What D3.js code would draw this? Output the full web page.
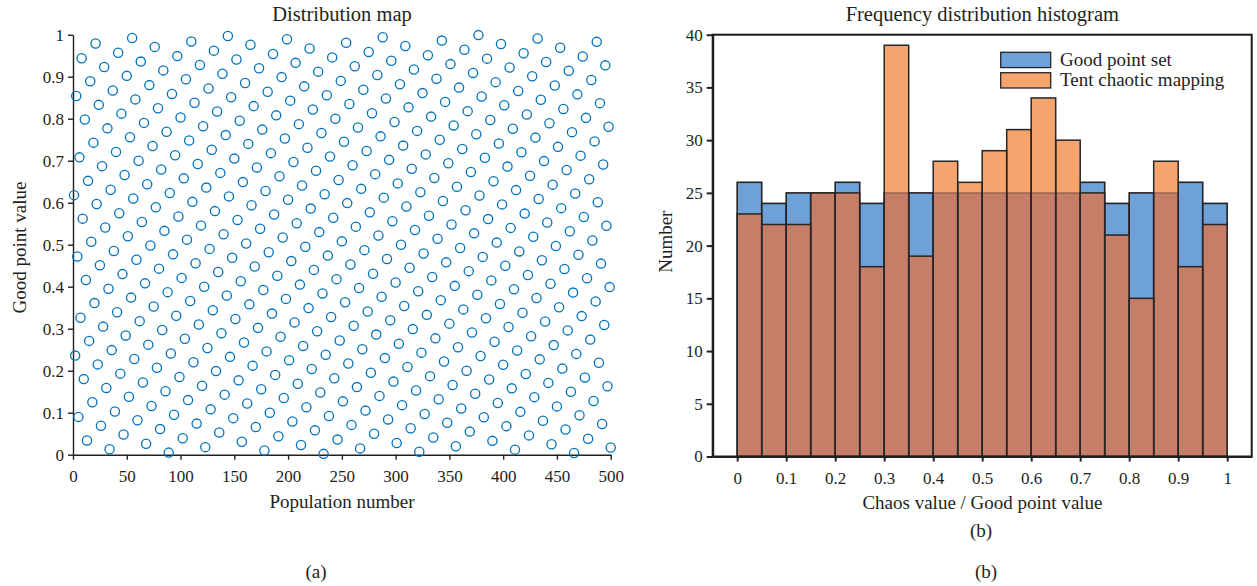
<!DOCTYPE html>
<html><head><meta charset="utf-8">
<script src="https://cdn.jsdelivr.net/npm/d3@7"></script>
<style>
body{margin:0;background:#fff}
svg{display:block}
text{font-family:"Liberation Serif","Times New Roman",serif;fill:#231f20}
</style>
</head><body>
<svg id="chart" width="1257" height="586"></svg>
<script>
// ---- Panel (a): good point set values for population numbers 1..500 ----
const goodPointValues = [
0.618,0.236,0.854,0.472,0.090,0.708,0.326,0.944,0.562,0.180,
0.798,0.416,0.034,0.652,0.271,0.889,0.507,0.125,0.743,0.361,
0.979,0.597,0.215,0.833,0.451,0.069,0.687,0.305,0.923,0.541,
0.159,0.777,0.395,0.013,0.631,0.249,0.867,0.485,0.103,0.721,
0.339,0.957,0.575,0.193,0.812,0.430,0.048,0.666,0.284,0.902,
0.520,0.138,0.756,0.374,0.992,0.610,0.228,0.846,0.464,0.082,
0.700,0.318,0.936,0.554,0.172,0.790,0.408,0.026,0.644,0.262,
0.880,0.498,0.116,0.735,0.353,0.971,0.589,0.207,0.825,0.443,
0.061,0.679,0.297,0.915,0.533,0.151,0.769,0.387,0.005,
0.623,0.241,0.859,0.477,0.095,0.713,0.331,0.949,0.567,0.185,
0.803,0.421,0.039,0.658,0.276,0.894,0.512,0.130,0.748,0.366,
0.984,0.602,0.220,0.838,0.456,0.074,0.692,0.310,0.928,0.546,
0.164,0.782,0.400,0.018,0.636,0.254,0.872,0.490,0.108,0.726,
0.344,0.962,0.580,0.199,0.817,0.435,0.053,0.671,0.289,0.907,
0.525,0.143,0.761,0.379,0.997,0.615,0.233,0.851,0.469,0.087,
0.705,0.323,0.941,0.559,0.177,0.795,0.413,0.031,0.649,0.267,
0.885,0.503,0.122,0.740,0.358,0.976,0.594,0.212,0.830,0.448,
0.066,0.684,0.302,0.920,0.538,0.156,0.774,0.392,0.010,
0.628,0.246,0.864,0.482,0.100,0.718,0.336,0.954,0.572,0.190,
0.808,0.426,0.044,0.663,0.281,0.899,0.517,0.135,0.753,0.371,
0.989,0.607,0.225,0.843,0.461,0.079,0.697,0.315,0.933,0.551,
0.169,0.787,0.405,0.023,0.641,0.259,0.877,0.495,0.113,0.731,
0.349,0.967,0.586,0.204,0.822,0.440,0.058,0.676,0.294,0.912,
0.530,0.148,0.766,0.384,0.002,0.620,0.238,0.856,0.474,0.092,
0.710,0.328,0.946,0.564,0.182,0.800,0.418,0.036,0.654,0.272,
0.890,0.508,0.127,0.745,0.363,0.981,0.599,0.217,0.835,0.453,
0.071,0.689,0.307,0.925,0.543,0.161,0.779,0.397,0.015,
0.633,0.251,0.869,0.487,0.105,0.723,0.341,0.959,0.577,0.195,
0.813,0.431,0.050,0.668,0.286,0.904,0.522,0.140,0.758,0.376,
0.994,0.612,0.230,0.848,0.466,0.084,0.702,0.320,0.938,0.556,
0.174,0.792,0.410,0.028,0.646,0.264,0.882,0.500,0.118,0.736,
0.354,0.973,0.591,0.209,0.827,0.445,0.063,0.681,0.299,0.917,
0.535,0.153,0.771,0.389,0.007,0.625,0.243,0.861,0.479,0.097,
0.715,0.333,0.951,0.569,0.187,0.805,0.423,0.041,0.659,0.277,
0.895,0.514,0.132,0.750,0.368,0.986,0.604,0.222,0.840,0.458,
0.076,0.694,0.312,0.930,0.548,0.166,0.784,0.402,0.020,
0.638,0.256,0.874,0.492,0.110,0.728,0.346,0.964,0.582,0.200,
0.818,0.437,0.055,0.673,0.291,0.909,0.527,0.145,0.763,0.381,
0.999,0.617,0.235,0.853,0.471,0.089,0.707,0.325,0.943,0.561,
0.179,0.797,0.415,0.033,0.651,0.269,0.887,0.505,0.123,0.741,
0.359,0.978,0.596,0.214,0.832,0.450,0.068,0.686,0.304,0.922,
0.540,0.158,0.776,0.394,0.012,0.630,0.248,0.866,0.484,0.102,
0.720,0.338,0.956,0.574,0.192,0.810,0.428,0.046,0.664,0.282,
0.901,0.519,0.137,0.755,0.373,0.991,0.609,0.227,0.845,0.463,
0.081,0.699,0.317,0.935,0.553,0.171,0.789,0.407,0.025,
0.643,0.261,0.879,0.497,0.115,0.733,0.351,0.969,0.587,0.205,
0.823,0.442,0.060,0.678,0.296,0.914,0.532,0.150,0.768,0.386,
0.004,0.622,0.240,0.858,0.476,0.094,0.712,0.330,0.948,0.566,
0.184,0.802,0.420,0.038,0.656,0.274,0.892,0.510,0.128,0.746,
0.365,0.983,0.601,0.219,0.837,0.455,0.073,0.691,0.309,0.927,
0.545,0.163,0.781,0.399,0.017
];
const populationTicks = [0,50,100,150,200,250,300,350,400,450,500];
const valueTicks = [0,0.1,0.2,0.3,0.4,0.5,0.6,0.7,0.8,0.9,1];

// ---- Panel (b): histogram counts per bin of width 0.05 ----
const binStarts = [0,0.05,0.1,0.15,0.2,0.25,0.3,0.35,0.4,0.45,0.5,0.55,0.6,0.65,0.7,0.75,0.8,0.85,0.9,0.95];
const binWidth = 0.05;
const goodPointCounts = [26,24,25,25,26,24,25,25,25,25,25,25,25,25,26,24,25,25,26,24];
const tentCounts      = [23,22,22,25,25,18,39,19,28,26,29,31,34,30,25,21,15,28,18,22];
const countTicks = [0,5,10,15,20,25,30,35,40];
const histTicks = [0,0.1,0.2,0.3,0.4,0.5,0.6,0.7,0.8,0.9,1];
const seriesNames = ["Good point set","Tent chaotic mapping"];

const svg = d3.select("#chart");
const ink = "#231f20";
const tickFont = 17, labelFont = 19, titleFont = 20.5;

function styleAxis(g, w){
  g.select(".domain").attr("stroke", ink).attr("stroke-width", w);
  g.selectAll(".tick line").attr("stroke", ink).attr("stroke-width", w);
  g.selectAll(".tick text").attr("fill", ink).style("font-family","'Liberation Serif',serif").style("font-size", tickFont+"px");
}
const fmt = d3.format("~g");

// ================= Panel (a) =================
const xa = d3.scaleLinear().domain([0,500]).range([73,610.7]);
const ya = d3.scaleLinear().domain([0,1]).range([454.7,34.7]);

const ga = svg.append("g");
ga.append("g").attr("transform","translate(0,454.7)")
  .call(d3.axisBottom(xa).tickValues(populationTicks).tickFormat(fmt).tickSize(5).tickSizeOuter(0).tickPadding(10))
  .call(g=>styleAxis(g,1.4));
ga.append("g").attr("transform","translate(73,0)")
  .call(d3.axisLeft(ya).tickValues(valueTicks).tickFormat(fmt).tickSize(5).tickSizeOuter(0).tickPadding(4))
  .call(g=>styleAxis(g,1.4));

ga.append("g").selectAll("circle").data(goodPointValues).join("circle")
  .attr("cx",(d,i)=>xa(i+1)).attr("cy",d=>ya(d)).attr("r",4.6)
  .attr("fill","none").attr("stroke","#0072bd").attr("stroke-width",1.3);

ga.append("text").attr("x",342).attr("y",21).attr("text-anchor","middle").style("font-size",titleFont+"px").text("Distribution map");
ga.append("text").attr("x",342).attr("y",508).attr("text-anchor","middle").style("font-size",labelFont+"px").text("Population number");
ga.append("text").attr("transform","translate(26,247.5) rotate(-90)").attr("text-anchor","middle").style("font-size",labelFont+"px").text("Good point value");
ga.append("text").attr("x",316).attr("y",578).attr("text-anchor","middle").style("font-size","19px").text("(a)");

// ================= Panel (b) =================
const xb = d3.scaleLinear().domain([-0.05,1.05]).range([712.7,1251.7]);
const yb = d3.scaleLinear().domain([0,40]).range([456.5,34.7]);
const gb = svg.append("g");

const blueFill = "#6fa1d9", orangeFill = "#f4a46c", mixFill = "#c77e69", edge = "#262626";
const bins = binStarts.map((s,i)=>({x0:s, x1:s+binWidth, b:goodPointCounts[i], o:tentCounts[i]}));

gb.append("g").selectAll("rect").data(bins).join("rect")
  .attr("x",d=>xb(d.x0)).attr("width",d=>xb(d.x1)-xb(d.x0))
  .attr("y",d=>yb(d.b)).attr("height",d=>yb(0)-yb(d.b))
  .attr("fill",blueFill).attr("stroke",edge).attr("stroke-width",1.5);
gb.append("g").selectAll("rect").data(bins).join("rect")
  .attr("x",d=>xb(d.x0)).attr("width",d=>xb(d.x1)-xb(d.x0))
  .attr("y",d=>yb(d.o)).attr("height",d=>yb(0)-yb(d.o))
  .attr("fill",orangeFill).attr("stroke","none");
gb.append("g").selectAll("rect").data(bins).join("rect")
  .attr("x",d=>xb(d.x0)).attr("width",d=>xb(d.x1)-xb(d.x0))
  .attr("y",d=>yb(Math.min(d.b,d.o))).attr("height",d=>yb(0)-yb(Math.min(d.b,d.o)))
  .attr("fill",mixFill).attr("stroke","none");
gb.append("g").selectAll("rect").data(bins).join("rect")
  .attr("x",d=>xb(d.x0)).attr("width",d=>xb(d.x1)-xb(d.x0))
  .attr("y",d=>yb(d.b)).attr("height",d=>yb(0)-yb(d.b))
  .attr("fill","none").attr("stroke","rgba(40,30,30,0.35)").attr("stroke-width",1.5);
gb.append("g").selectAll("rect").data(bins).join("rect")
  .attr("x",d=>xb(d.x0)).attr("width",d=>xb(d.x1)-xb(d.x0))
  .attr("y",d=>yb(d.o)).attr("height",d=>yb(0)-yb(d.o))
  .attr("fill","none").attr("stroke",edge).attr("stroke-width",1.5);

gb.append("rect").attr("x",712.7).attr("y",34.7).attr("width",1251.7-712.7).attr("height",456.5-34.7)
  .attr("fill","none").attr("stroke","#1a1a1a").attr("stroke-width",2);
gb.append("g").attr("transform","translate(0,456.5)")
  .call(d3.axisBottom(xb).tickValues(histTicks).tickFormat(fmt).tickSize(5).tickSizeOuter(0).tickPadding(10))
  .call(g=>styleAxis(g,2));
gb.append("g").attr("transform","translate(712.7,0)")
  .call(d3.axisLeft(yb).tickValues(countTicks).tickFormat(fmt).tickSize(6).tickSizeOuter(0).tickPadding(4))
  .call(g=>styleAxis(g,2));

const legend = gb.append("g");
const legColors = [blueFill, orangeFill];
legend.selectAll("rect").data(seriesNames).join("rect")
  .attr("x",1000.7).attr("y",(d,i)=>52.3+i*20.4).attr("width",50).attr("height",15.3)
  .attr("fill",(d,i)=>legColors[i]).attr("stroke",edge).attr("stroke-width",1.3);
legend.selectAll("text").data(seriesNames).join("text")
  .attr("x",1060).attr("y",(d,i)=>65.5+i*20.6).style("font-size",labelFont+"px").text(d=>d);

gb.append("text").attr("x",982.3).attr("y",21).attr("text-anchor","middle").style("font-size",titleFont+"px").text("Frequency distribution histogram");
gb.append("text").attr("x",982.5).attr("y",509).attr("text-anchor","middle").style("font-size",labelFont+"px").text("Chaos value / Good point value");
gb.append("text").attr("transform","translate(671.5,241.7) rotate(-90)").attr("text-anchor","middle").style("font-size",labelFont+"px").text("Number");
gb.append("text").attr("x",981).attr("y",537).attr("text-anchor","middle").style("font-size","19px").text("(b)");
gb.append("text").attr("x",986).attr("y",578).attr("text-anchor","middle").style("font-size","19px").text("(b)");
</script>
</body></html>
